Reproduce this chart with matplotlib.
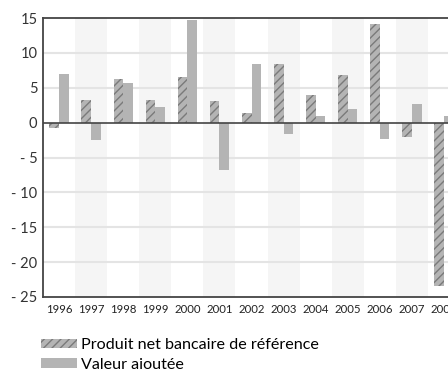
import matplotlib
matplotlib.use("Agg")
import matplotlib.pyplot as plt
from matplotlib.patches import Patch
import numpy as np

plt.rcParams['font.family'] = ['Lato', 'DejaVu Sans']
plt.rcParams['hatch.color'] = '#7a7a7a'
plt.rcParams['hatch.linewidth'] = 1.0

years = ['1996', '1997', '1998', '1999', '2000', '2001', '2002',
         '2003', '2004', '2005', '2006', '2007', '2008']
pnb = [-0.7, 3.3, 6.2, 3.3, 6.6, 3.1, 1.4, 8.4, 3.9, 6.8, 14.2, -2.1, -23.4]
valeur = [7.0, -2.5, 5.7, 2.2, 14.7, -6.8, 8.4, -1.6, 1.0, 1.9, -2.3, 2.6, 1.0]
yticks = [15, 10, 5, 0, -5, -10, -15, -20, -25]
ytick_labels = ['15', '10', '5', '0', '- 5', '- 10', '- 15', '- 20', '- 25']

bar_color = '#b4b4b4'

fig = plt.figure(figsize=(4.48, 3.69), dpi=100)
ax = fig.add_axes([43 / 448, 1 - 297 / 369, 417 / 448, (297 - 18) / 369])

x = np.arange(len(years))
w = 0.3

# alternating background bands
for i in x:
    if i % 2 == 1:
        ax.axvspan(i - 0.5, i + 0.5, color='#f5f5f5', zorder=0, lw=0)

# horizontal grid lines
for v in yticks[1:-1]:
    if v != 0:
        ax.axhline(v, color='#e4e4e4', lw=1.5, zorder=1)

ax.bar(x - w / 2, pnb, width=w, color=bar_color, hatch='////',
       edgecolor='#7a7a7a', linewidth=0, zorder=2)
ax.bar(x + w / 2, valeur, width=w, color=bar_color, linewidth=0, zorder=2)

ax.axhline(0, color='#444444', lw=1.2, zorder=3)

ax.set_xlim(-0.5, len(years) - 0.5)
ax.set_ylim(-25, 15)
ax.set_yticks(yticks)
ax.set_yticklabels(ytick_labels, fontsize=10.5, color='#333333')
ax.set_xticks(x)
ax.set_xticklabels(years, fontsize=8.2, color='#222222')
ax.tick_params(axis='both', length=0, pad=4)
ax.tick_params(axis='x', pad=5)

for s in ['left', 'bottom', 'top']:
    ax.spines[s].set_color('#444444')
    ax.spines[s].set_linewidth(1.3)
ax.spines['right'].set_visible(False)

handles = [Patch(facecolor=bar_color, hatch='////', edgecolor='#7a7a7a', lw=0),
           Patch(facecolor=bar_color, lw=0)]
labels = ['Produit net bancaire de référence', 'Valeur ajoutée']
fig.legend(handles, labels, loc='upper left', bbox_to_anchor=(0.092, 0.084),
           frameon=False, fontsize=11.6, handlelength=2.2, handleheight=0.5,
           handletextpad=0.25, labelspacing=0.35, borderaxespad=0, borderpad=0)

fig.savefig('out.png', dpi=100)
